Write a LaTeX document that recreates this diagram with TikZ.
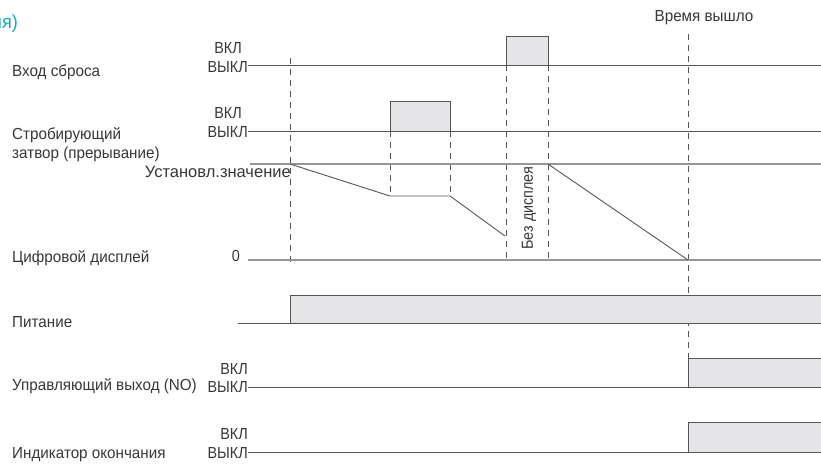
\documentclass[tikz,border=0pt]{standalone}
\usepackage{fontspec}
\setmainfont{Liberation Sans}
\newfontfamily\condf{Liberation Sans}[FakeStretch=0.95]
\newfontfamily\statef{Liberation Sans}[FakeStretch=0.9]
\definecolor{txt}{RGB}{55,55,55}
\definecolor{sig}{RGB}{85,85,85}
\definecolor{refc}{RGB}{150,150,150}
\definecolor{fillg}{RGB}{229,229,231}
\definecolor{tealc}{RGB}{20,170,195}
\begin{document}
\begin{tikzpicture}[x=1pt,y=-1pt,
  lbl/.style={font=\condf\fontsize{16}{18}\selectfont, text=txt, inner sep=0, anchor=west},
  st/.style={font=\statef\fontsize{16}{18}\selectfont, text=txt, inner sep=0, anchor=east},
  sigline/.style={draw=sig, line width=0.9pt},
  refline/.style={draw=refc, line width=1.1pt},
  pulse/.style={draw=sig, fill=fillg, line width=0.9pt},
  guide/.style={draw=sig, line width=0.7pt, dash pattern=on 6pt off 5pt}]
\useasboundingbox (0,0) rectangle (821,464);

% title fragment (cut at the left edge, as in the reference)
\node[font=\condf\fontsize{19}{21}\selectfont, text=tealc, inner sep=0, anchor=east] (ttl) at (18,24) {ия)};

% row labels
\node[lbl] (l1) at (12,72) {Вход сброса};
\node[lbl] (l2a) at (12,135) {Стробирующий};
\node[lbl] (l2b) at (12,154) {затвор (прерывание)};
\node[lbl] (l3) at (12,258) {Цифровой дисплей};
\node[lbl] (l4) at (12,322) {Питание};
\node[lbl] (l5) at (12,386) {Управляющий выход (NO)};
\node[lbl] (l6) at (12,455) {Индикатор окончания};

% state labels
\node[st] (on1) at (242,48) {ВКЛ};
\node[st] (off1) at (248,67) {ВЫКЛ};
\node[st] (on2) at (242,113) {ВКЛ};
\node[st] (off2) at (248,132) {ВЫКЛ};
\node[st] (zero) at (240,256) {0};
\node[st] (on5) at (248,369) {ВКЛ};
\node[st] (off5) at (248,387) {ВЫКЛ};
\node[st] (on6) at (248,434) {ВКЛ};
\node[st] (off6) at (248,453) {ВЫКЛ};
\node[font=\fontsize{16.5}{18}\selectfont, text=txt, inner sep=0, anchor=east] (setv) at (291,172) {Установл.значение};
\node[lbl, anchor=center] (tout) at (704,18) {Время вышло};
\node[st, anchor=center, rotate=90] (nodisp) at (529,208) {Без дисплея};

% guide (dashed) lines
\draw[guide] (290,58) -- (290,262);
\draw[guide] (390,131) -- (390,196);
\draw[guide] (450,131) -- (450,196);
\draw[guide] (506,65) -- (506,262);
\draw[guide] (548,65) -- (548,262);
\draw[guide] (688,34) -- (688,358);

% reset input
\draw[sigline] (off1.east |- 0,65) -- (821,65);
\filldraw[pulse] (506,65) -- (506,36) -- (548,36) -- (548,65);

% strobe
\draw[sigline] (off2.east |- 0,131) -- (821,131);
\filldraw[pulse] (390,131) -- (390,101) -- (450,101) -- (450,131);

% digital display
\draw[refline] (250,164) -- (821,164);
\draw[refline] (248,260) -- (821,260);
\draw[sigline] (290,164) -- (390,196) -- (450,196) -- (505,236);
\draw[sigline] (548,164) -- (688,260);

% power
\fill[fillg] (290,295) rectangle (821,323);
\draw[sigline] (238,323) -- (290,323) -- (290,295) -- (821,295);
\draw[sigline] (290,323) -- (821,323);

% control output
\fill[fillg] (688,358) rectangle (821,387);
\draw[sigline] (off5.east |- 0,387) -- (821,387);
\draw[sigline] (688,387) -- (688,358) -- (821,358);

% end indicator
\fill[fillg] (688,422) rectangle (821,452);
\draw[sigline] (off6.east |- 0,452) -- (821,452);
\draw[sigline] (688,452) -- (688,422) -- (821,422);
\end{tikzpicture}
\end{document}
